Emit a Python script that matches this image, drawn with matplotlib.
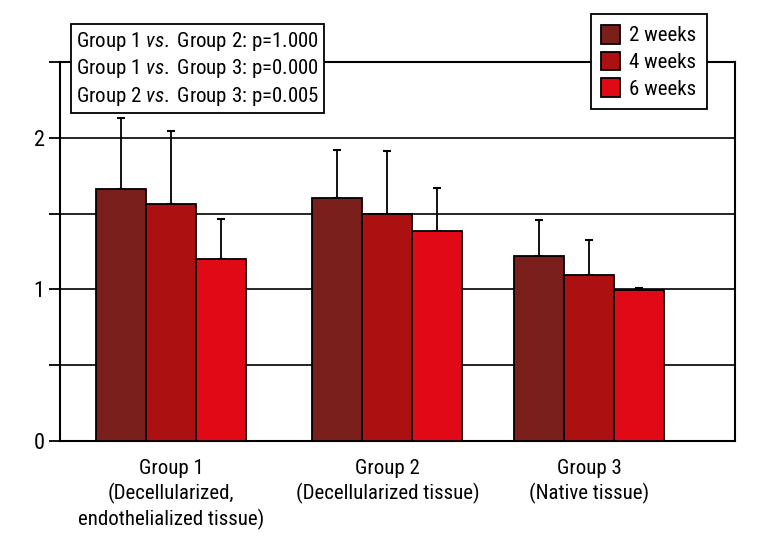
import matplotlib
matplotlib.use("Agg")
import matplotlib.pyplot as plt
import numpy as np

plt.rcParams['font.family'] = ['Roboto Condensed', 'DejaVu Sans']
plt.rcParams['mathtext.fontset'] = 'custom'
plt.rcParams['mathtext.rm'] = 'Roboto Condensed'
plt.rcParams['mathtext.it'] = 'Roboto Condensed:italic'

# data
groups = ["Group 1\n(Decellularized,\nendothelialized tissue)",
          "Group 2\n(Decellularized tissue)",
          "Group 3\n(Native tissue)"]
weeks = ["2 weeks", "4 weeks", "6 weeks"]
means_2w = [1.66, 1.60, 1.22]
means_4w = [1.565, 1.495, 1.095]
means_6w = [1.20, 1.385, 0.993]
err_2w = [0.47, 0.32, 0.235]
err_4w = [0.48, 0.42, 0.23]
err_6w = [0.265, 0.28, 0.013]
stats_lines = ["Group 1 $\\it{vs.}$ Group 2: p=1.000",
               "Group 1 $\\it{vs.}$ Group 3: p=0.000",
               "Group 2 $\\it{vs.}$ Group 3: p=0.005"]

colors = ["#7a1f1b", "#ad1010", "#e10916"]

group_pos = np.array([0.0, 1.036, 2.0])
w = 0.239

fig = plt.figure(figsize=(7.68, 5.52), dpi=100)
ax = fig.add_axes([0.078, 0.201, 0.879, 0.687])

for k, (m, e) in enumerate([(means_2w, err_2w), (means_4w, err_4w), (means_6w, err_6w)]):
    x = group_pos + (k - 1) * w
    ax.bar(x, m, width=w, color=colors[k], edgecolor="black", linewidth=1.3,
           label=weeks[k], zorder=3)
    ax.errorbar(x, m, yerr=[np.zeros(3), e], fmt="none", ecolor="black",
                elinewidth=1.3, capsize=3, capthick=1.5, zorder=2)

for yv in [0.5, 1.0, 1.5, 2.0]:
    ax.axhline(yv, color="black", linewidth=1.2, zorder=1)

ax.set_xlim(-0.531, 2.699)
ax.set_ylim(0, 2.5)
ax.set_yticks(np.arange(0, 2.51, 0.5))
ax.set_yticklabels(["0", "", "1", "", "2", ""])
ax.tick_params(axis="y", length=8, width=1.3, labelsize=16, pad=3)
ax.set_xticks(group_pos)
ax.set_xticklabels(groups, fontsize=15, linespacing=1.3)
ax.tick_params(axis="x", length=0, pad=13)
for s in ax.spines.values():
    s.set_linewidth(1.5)

ax.text(0.024, 0.982, "\n".join(stats_lines), transform=ax.transAxes,
        fontsize=15, va="center", ha="left", linespacing=1.27,
        bbox=dict(boxstyle="square,pad=0.25", fc="white", ec="black", lw=1.3),
        zorder=10, clip_on=False)

leg = ax.legend(loc="center right", bbox_to_anchor=(0.9585, 1.0), fontsize=15,
                frameon=True, fancybox=False, handlelength=0.9, handleheight=1.0,
                handletextpad=0.45, labelspacing=0.3, borderpad=0.5,
                borderaxespad=0, framealpha=1)
leg.get_frame().set_edgecolor("black")
leg.get_frame().set_linewidth(1.3)
leg.set_zorder(10)

fig.savefig("out.png", dpi=100)
